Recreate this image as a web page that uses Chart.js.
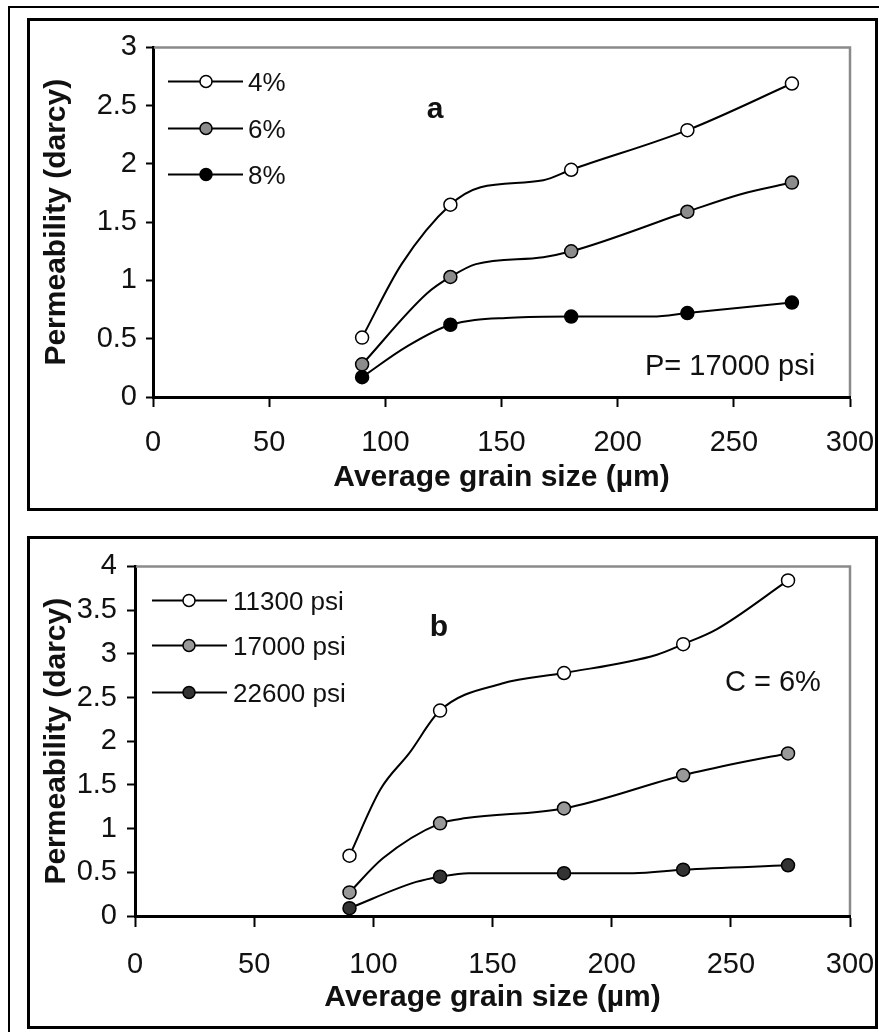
<!DOCTYPE html>
<html>
<head>
<meta charset="utf-8">
<script src="https://cdn.jsdelivr.net/npm/chart.js@4"></script>
<style>
  body { margin: 0; width: 879px; height: 1032px; overflow: hidden; position: relative; background: #fff; }
  .frame { position: absolute; left: 8px; top: 6px; width: 900px; height: 1100px; border: 2px solid #000; }
  .panel { position: absolute; left: 27px; width: 851px; height: 493px; border: 3px solid #000; box-sizing: border-box; background: #fff; }
  .panel canvas { position: absolute; left: 0; top: 0; }
</style>
</head>
<body>
<div class="frame"></div>
<div class="panel" style="top:18px"><canvas id="chartA" width="845" height="487"></canvas></div>
<div class="panel" style="top:536px"><canvas id="chartB" width="845" height="487"></canvas></div>
<script>
// tick labels
const xTicks = [0, 50, 100, 150, 200, 250, 300];
const yTicksA = [0, 0.5, 1, 1.5, 2, 2.5, 3];
const yTicksB = [0, 0.5, 1, 1.5, 2, 2.5, 3, 3.5, 4];

// panel a: P = 17000 psi, markers
const grainA = [90, 128, 180, 230, 275];
const permA4 = [0.51, 1.65, 1.95, 2.29, 2.69];
const permA6 = [0.28, 1.03, 1.25, 1.59, 1.84];
const permA8 = [0.17, 0.62, 0.69, 0.72, 0.81];
// panel a: smooth curves as traced on the picture
const curveA4X = [90, 107, 128, 141, 168, 180, 230, 275];
const curveA4Y = [0.51, 1.14, 1.65, 1.80, 1.86, 1.95, 2.29, 2.69];
const curveA6X = [90, 118, 128, 139, 168, 180, 230, 253, 275];
const curveA6Y = [0.28, 0.89, 1.03, 1.14, 1.20, 1.25, 1.59, 1.74, 1.84];
const curveA8X = [90, 109, 128, 154, 180, 215, 230, 275];
const curveA8Y = [0.17, 0.43, 0.62, 0.68, 0.69, 0.69, 0.72, 0.81];

// panel b: C = 6%, markers
const grainB = [90, 128, 180, 230, 274];
const permB11300 = [0.69, 2.35, 2.78, 3.11, 3.84];
const permB17000 = [0.27, 1.06, 1.23, 1.61, 1.86];
const permB22600 = [0.09, 0.45, 0.49, 0.53, 0.58];
// panel b: smooth curves
const curveB11300X = [90, 103, 115, 128, 154, 180, 219, 230, 244, 274];
const curveB11300Y = [0.69, 1.45, 1.86, 2.35, 2.66, 2.78, 2.99, 3.11, 3.28, 3.84];
const curveB17000X = [90, 104, 128, 139, 180, 230, 253, 274];
const curveB17000Y = [0.27, 0.66, 1.06, 1.12, 1.23, 1.61, 1.75, 1.86];
const curveB22600X = [90, 118, 128, 140, 180, 209, 230, 274];
const curveB22600Y = [0.09, 0.39, 0.45, 0.49, 0.49, 0.49, 0.53, 0.58];

const FONT = '"Liberation Sans", Arial, sans-serif';
Chart.defaults.font.family = FONT;
Chart.defaults.color = '#111';

function pts(xs, ys) {
    return xs.map((x, i) => ({ x: x, y: ys[i] }));
}

function markers(label, xs, ys, fill) {
    return {
        label: label,
        data: pts(xs, ys),
        showLine: false,
        pointRadius: 6.5,
        pointBackgroundColor: fill,
        pointBorderColor: '#000',
        pointBorderWidth: 1.5
    };
}

function curve(xs, ys) {
    return {
        data: pts(xs, ys),
        showLine: true,
        pointRadius: 0,
        borderColor: '#000',
        borderWidth: 2,
        cubicInterpolationMode: 'monotone'
    };
}

// gray top/right border of the plot area
const frameLines = {
    id: 'frameLines',
    beforeDatasetsDraw(chart) {
        const { ctx, chartArea: a } = chart;
        ctx.save();
        ctx.strokeStyle = '#8a8a8a';
        ctx.lineWidth = 2.5;
        ctx.beginPath();
        ctx.moveTo(a.left + 1, a.top);
        ctx.lineTo(a.right, a.top);
        ctx.lineTo(a.right, a.bottom - 1);
        ctx.stroke();
        ctx.restore();
    }
};

// legend inside the plot + text notes
function insideLegend(lay) {
    return {
        id: 'insideLegend',
        afterDraw(chart) {
            const { ctx, chartArea: a } = chart;
            ctx.save();
            chart.data.datasets.filter(d => d.label).forEach((d, i) => {
                const y = a.top + lay.rows[i];
                ctx.strokeStyle = '#000';
                ctx.lineWidth = 2;
                ctx.beginPath();
                ctx.moveTo(a.left + lay.x0, y);
                ctx.lineTo(a.left + lay.x1, y);
                ctx.stroke();
                ctx.beginPath();
                ctx.arc(a.left + lay.mx, y, 6, 0, Math.PI * 2);
                ctx.fillStyle = d.pointBackgroundColor;
                ctx.fill();
                ctx.lineWidth = 1.5;
                ctx.stroke();
                ctx.fillStyle = '#111';
                ctx.font = '26px ' + FONT;
                ctx.textAlign = 'left';
                ctx.textBaseline = 'middle';
                ctx.fillText(d.label, a.left + lay.tx, y + 2);
            });
            lay.notes.forEach(n => {
                ctx.fillStyle = '#111';
                ctx.font = n.font;
                ctx.textAlign = n.align;
                ctx.textBaseline = 'alphabetic';
                ctx.fillText(n.text, a.left + n.dx, a.top + n.dy);
            });
            ctx.restore();
        }
    };
}

function makePanel(id, p) {
    return new Chart(document.getElementById(id), {
        type: 'scatter',
        data: { datasets: p.datasets },
        plugins: [frameLines, insideLegend(p.legend)],
        options: {
            responsive: false,
            animation: false,
            layout: { padding: { top: p.padTop, right: 25, left: 0, bottom: 0 } },
            plugins: { legend: { display: false }, tooltip: { enabled: false } },
            scales: {
                x: {
                    type: 'linear',
                    min: 0,
                    max: 300,
                    afterBuildTicks: s => { s.ticks = xTicks.map(v => ({ value: v })); },
                    afterFit: s => { s.height = p.xHeight; s.paddingLeft = 0; s.paddingRight = 0; },
                    ticks: { font: { size: 29 }, color: '#111', padding: p.xTickPad, maxRotation: 0, callback: v => String(v) },
                    grid: { drawOnChartArea: false, drawTicks: true, tickLength: p.xTickLen, tickWidth: 2, tickColor: '#000' },
                    border: { color: '#000', width: 3 },
                    title: {
                        display: true,
                        text: 'Average grain size (µm)',
                        font: { size: 30, weight: 'bold' },
                        color: '#111',
                        padding: { top: 0, bottom: p.xTitlePad }
                    }
                },
                y: {
                    type: 'linear',
                    min: 0,
                    max: p.yMax,
                    afterBuildTicks: s => { s.ticks = p.yTicks.map(v => ({ value: v })); },
                    afterFit: s => { s.width = p.yWidth; },
                    ticks: { font: { size: 29 }, color: '#111', padding: p.yTickPad, callback: v => String(v) },
                    grid: { drawOnChartArea: false, drawTicks: true, tickLength: p.yTickLen, tickWidth: 2, tickColor: '#000' },
                    border: { color: '#000', width: 3 },
                    title: {
                        display: true,
                        text: 'Permeability (darcy)',
                        font: { size: 30, weight: 'bold' },
                        color: '#111',
                        padding: { top: 9, bottom: 0 }
                    }
                }
            }
        }
    });
}

makePanel('chartA', {
    datasets: [
        markers('4%', grainA, permA4, '#ffffff'),
        markers('6%', grainA, permA6, '#8c8c8c'),
        markers('8%', grainA, permA8, '#000000'),
        curve(curveA4X, curveA4Y),
        curve(curveA6X, curveA6Y),
        curve(curveA8X, curveA8Y)
    ],
    yMax: 3, yTicks: yTicksA,
    padTop: 24, yWidth: 123, xHeight: 111,
    xTickLen: 10, xTickPad: 19, xTitlePad: 12,
    yTickLen: 7, yTickPad: 9,
    legend: {
        x0: 15, x1: 90, mx: 53, tx: 95, rows: [34, 81, 127],
        notes: [
            { text: 'a', font: 'bold 30px ' + FONT, align: 'center', dx: 282, dy: 71 },
            { text: 'P= 17000 psi', font: '29px ' + FONT, align: 'left', dx: 492, dy: 328 }
        ]
    }
});

makePanel('chartB', {
    datasets: [
        markers('11300 psi', grainB, permB11300, '#ffffff'),
        markers('17000 psi', grainB, permB17000, '#999999'),
        markers('22600 psi', grainB, permB22600, '#333333'),
        curve(curveB11300X, curveB11300Y),
        curve(curveB17000X, curveB17000Y),
        curve(curveB22600X, curveB22600Y)
    ],
    yMax: 4, yTicks: yTicksB,
    padTop: 26, yWidth: 105, xHeight: 110,
    xTickLen: 11, xTickPad: 21, xTitlePad: 10,
    yTickLen: 8, yTickPad: 10,
    legend: {
        x0: 17, x1: 92, mx: 54, tx: 98, rows: [34, 79, 126],
        notes: [
            { text: 'b', font: 'bold 30px ' + FONT, align: 'center', dx: 304, dy: 70 },
            { text: 'C = 6%', font: '29px ' + FONT, align: 'left', dx: 590, dy: 125 }
        ]
    }
});
</script>
</body>
</html>
